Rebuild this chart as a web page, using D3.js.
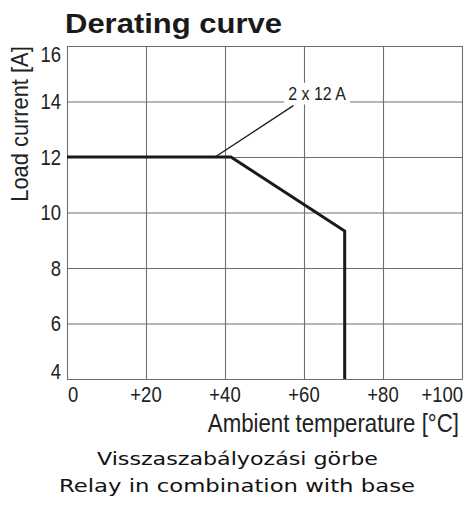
<!DOCTYPE html>
<html><head><meta charset="utf-8">
<script src="https://cdn.jsdelivr.net/npm/d3@7"></script>
<style>
html,body{margin:0;padding:0;background:#fff;}
svg{display:block;}
.cond{font-family:"Liberation Sans",Arial,sans-serif;}
</style>
</head><body>
<svg id="chart" width="465" height="505"></svg>
<script>
// ---- data ----
const tempTicks = [0, 20, 40, 60, 80, 100];
const tempTickLabels = ["0", "+20", "+40", "+60", "+80", "+100"];
const currentTicks = [4, 6, 8, 10, 12, 14, 16];
const currentTickLabels = ["4", "6", "8", "10", "12", "14", "16"];
const curveTemp = [0, 41.5, 70.3, 70.3];
const curveCurrent = [12, 12, 9.33, 4];
const leaderTemp = [37.5, 57.3];
const leaderCurrent = [12, 13.85];
const annotationText = "2 x 12 A";
const annotationTemp = 56;
const annotationCurrent = 14.05;

const titleText = "Derating curve";
const yTitle = "Load current [A]";
const xTitle = "Ambient temperature [°C]";
const caption1 = "Visszaszabályozási görbe";
const caption2 = "Relay in combination with base";

// ---- layout ----
const svg = d3.select("#chart");
const x = d3.scaleLinear().domain([0, 100]).range([67, 462]);
const y = d3.scaleLinear().domain([4, 16]).range([379, 46]);
const gridColor = "#6e6e6e";
const SX = 0.84; // horizontal condensing

// grid
const g = svg.append("g");
g.selectAll("line.v").data(tempTicks).join("line")
  .attr("x1", d => x(d) + 0.5).attr("x2", d => x(d) + 0.5)
  .attr("y1", y(16)).attr("y2", y(4))
  .attr("stroke", gridColor).attr("stroke-width", 1.1);
g.selectAll("line.h").data(currentTicks).join("line")
  .attr("x1", x(0)).attr("x2", x(100) + 1)
  .attr("y1", d => y(d) + 0.5).attr("y2", d => y(d) + 0.5)
  .attr("stroke", gridColor).attr("stroke-width", 1.1);

// annotation label with white background
const lab = svg.append("text").attr("class", "cond")
  .attr("transform", `translate(${x(annotationTemp)},${y(annotationCurrent)}) scale(${SX},1)`)
  .attr("font-size", 19).attr("fill", "#222")
  .text(annotationText);
const bb = lab.node().getBBox();
svg.insert("rect", "text")
  .attr("x", x(annotationTemp) + bb.x * SX - 4).attr("y", y(annotationCurrent) + bb.y)
  .attr("width", bb.width * SX + 8).attr("height", bb.height)
  .attr("fill", "#fff");

// leader
svg.append("path")
  .attr("d", d3.line().x(d => x(d[0])).y(d => y(d[1]))(d3.zip(leaderTemp, leaderCurrent)))
  .attr("stroke", "#1a1a1a").attr("stroke-width", 1.3).attr("fill", "none");

// curve
svg.append("path")
  .attr("d", d3.line().x(d => x(d[0])).y(d => y(d[1]))(d3.zip(curveTemp, curveCurrent)))
  .attr("stroke", "#1a1a1a").attr("stroke-width", 3).attr("fill", "none")
  .attr("stroke-linejoin", "miter");

// y tick labels
const nY = currentTicks.length;
svg.selectAll("text.yt").data(currentTicks).join("text")
  .attr("class", "cond")
  .attr("transform", (d, i) => `translate(61,${y(d)}) scale(${SX},1)`)
  .attr("dy", (d, i) => i === nY - 1 ? "0.72em" : (i === 0 ? "0" : "0.36em"))
  .attr("text-anchor", "end").attr("font-size", 22).attr("fill", "#222")
  .text((d, i) => currentTickLabels[i]);

// x tick labels
const nX = tempTicks.length;
svg.selectAll("text.xt").data(tempTicks).join("text")
  .attr("class", "cond")
  .attr("transform", (d, i) => `translate(${i === 0 ? x(d) + 1 : (i === nX - 1 ? x(d) + 1 : x(d))},402) scale(${SX},1)`)
  .attr("text-anchor", (d, i) => i === 0 ? "start" : (i === nX - 1 ? "end" : "middle"))
  .attr("font-size", 22).attr("fill", "#222")
  .text((d, i) => tempTickLabels[i]);

// axis titles
svg.append("text").attr("class", "cond")
  .attr("transform", "translate(28,124) rotate(-90) scale(0.95,1)")
  .attr("text-anchor", "middle").attr("font-size", 23).attr("fill", "#222")
  .text(yTitle);
svg.append("text").attr("class", "cond")
  .attr("transform", "translate(459,432) scale(0.89,1)")
  .attr("text-anchor", "end")
  .attr("font-size", 25).attr("fill", "#222")
  .text(xTitle);

// title
svg.append("text")
  .attr("x", 65).attr("y", 33)
  .attr("font-family", "Liberation Sans, Arial, sans-serif").attr("font-weight", "bold")
  .attr("font-size", 28).attr("fill", "#1a1a1a")
  .attr("textLength", 217).attr("lengthAdjust", "spacingAndGlyphs")
  .text(titleText);

// captions
svg.append("text")
  .attr("x", 237.5).attr("y", 465).attr("text-anchor", "middle")
  .attr("font-family", "DejaVu Sans, sans-serif").attr("font-size", 18.5).attr("fill", "#111")
  .attr("textLength", 281).attr("lengthAdjust", "spacingAndGlyphs")
  .text(caption1);
svg.append("text")
  .attr("x", 237).attr("y", 492).attr("text-anchor", "middle")
  .attr("font-family", "DejaVu Sans, sans-serif").attr("font-size", 18.5).attr("fill", "#111")
  .attr("textLength", 356).attr("lengthAdjust", "spacingAndGlyphs")
  .text(caption2);
</script>
</body></html>
